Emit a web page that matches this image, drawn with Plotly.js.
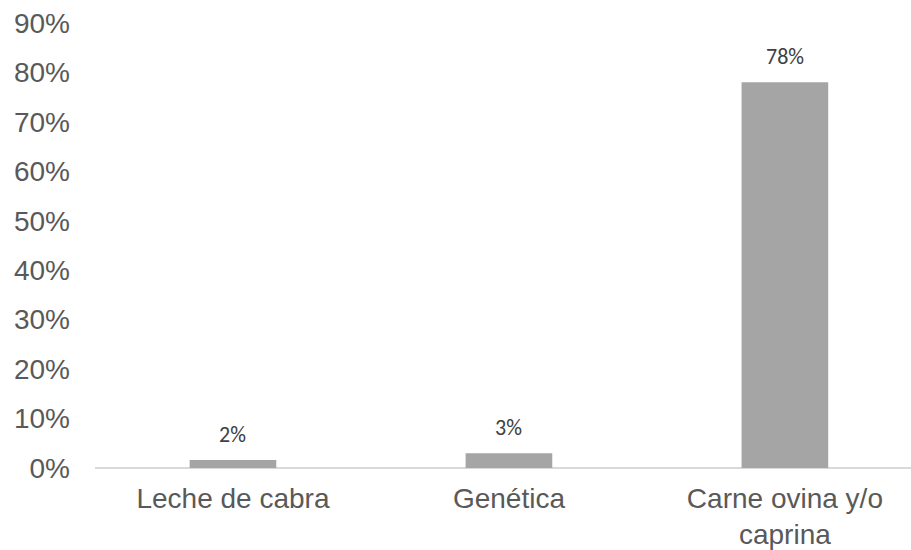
<!DOCTYPE html>
<html>
<head>
<meta charset="utf-8">
<script src="https://cdn.plot.ly/plotly-3.0.1.min.js"></script>
<style>html,body{margin:0;padding:0;background:#fff;}#chart{width:911px;height:550px;}</style>
</head>
<body>
<div id="chart"></div>
<script>
var categories = ["Leche de cabra", "Genética", "Carne ovina y/o<br>caprina"];
var values = [0.016, 0.03, 0.78];
var valueLabels = ["2%", "3%", "78%"];
var yTickVals = [0, 0.1, 0.2, 0.3, 0.4, 0.5, 0.6, 0.7, 0.8, 0.9];
var yTickText = ["0%", "10%", "20%", "30%", "40%", "50%", "60%", "70%", "80%", "90%"];

var trace = {
  type: "bar",
  x: categories,
  y: values,
  marker: {color: "#a5a5a5"},
  width: 0.314,
  hoverinfo: "none"
};

var annotations = categories.map(function (c, i) {
  return {
    x: c, y: values[i], text: valueLabels[i], showarrow: false,
    yanchor: "bottom", yshift: 10,
    font: {family: "Carlito, Lato, 'Liberation Sans', sans-serif", size: 22, color: "#404040"}
  };
});

var layout = {
  width: 911, height: 550,
  margin: {l: 95, r: 0, t: 23, b: 82},
  paper_bgcolor: "#fff", plot_bgcolor: "#fff",
  showlegend: false,
  font: {family: "'Liberation Sans', Arial, sans-serif", color: "#595959"},
  xaxis: {
    range: [-0.5, 2.457],
    showgrid: false, zeroline: false,
    showline: false,
    ticks: "",
    tickfont: {size: 28, color: "#595959"},
    ticklabelstandoff: 11
  },
  yaxis: {
    range: [0, 0.9],
    tickvals: yTickVals, ticktext: yTickText,
    showgrid: false, zeroline: true, zerolinecolor: "#d9d9d9", zerolinewidth: 1.5,
    showline: false, ticks: "",
    tickfont: {size: 28, color: "#595959"},
    ticklabelstandoff: 24
  },
  annotations: annotations
};

Plotly.newPlot("chart", [trace], layout, {displayModeBar: false, staticPlot: true});
</script>
</body>
</html>
